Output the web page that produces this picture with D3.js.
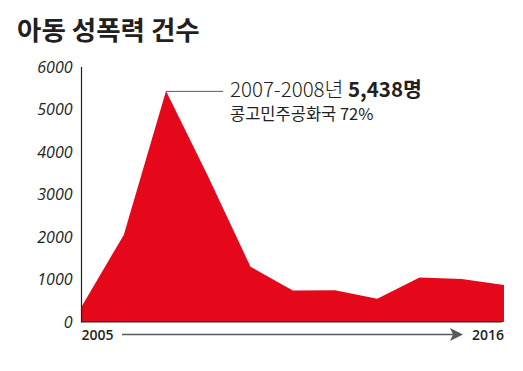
<!DOCTYPE html>
<html>
<head>
<meta charset="utf-8">
<script src="https://cdn.jsdelivr.net/npm/d3@7/dist/d3.min.js"></script>
<style>
  html, body { margin: 0; padding: 0; background: #fff; }
  svg { display: block; }
  .tick text { font-family: "Open Sans", sans-serif; font-style: italic; }
</style>
</head>
<body>
<div id="chart"></div>
<script>
// periods 2005-2006 ... 2015-2016, child sexual violence cases
const periods = ['2005-2006', '2006-2007', '2007-2008', '2008-2009', '2009-2010', '2010-2011',
                 '2011-2012', '2012-2013', '2013-2014', '2014-2015', '2015-2016'];
const cases = [360, 2050, 5438, 3420, 1300, 740, 750, 550, 1050, 1010, 870];
const yTicks = [0, 1000, 2000, 3000, 4000, 5000, 6000];
const endLabels = ['2005', '2016'];

const width = 523, height = 371;
const red = '#e5081b', ink = '#231f20', grey = '#5a5a5a';

let svg = d3.select('#chart')
            .append('svg')
            .attr('width', width)
            .attr('height', height);

// Title
svg.append('text')
   .attr('x', 17)
   .attr('y', 40)
   .attr('font-family', '"Noto Sans CJK KR", sans-serif')
   .attr('font-weight', 700)
   .attr('font-size', 26.5)
   .attr('fill', ink)
   .text('아동 성폭력 건수');

let x = d3.scaleLinear()
          .domain([0, periods.length - 1])
          .range([81.5, 504]);

let y = d3.scaleLinear()
          .domain([0, 6000])
          .range([322, 67]);

// Area
let area = d3.area()
             .x((d, i) => x(i))
             .y0(y(0))
             .y1(d => y(d));

svg.append('path')
   .datum(cases)
   .attr('d', area)
   .attr('fill', red);

// Y axis
let yAxis = svg.append('g')
               .attr('transform', `translate(${x(0)},0)`)
               .call(d3.axisLeft(y).tickValues(yTicks).tickFormat(d3.format('d')).tickSize(0).tickPadding(9));

yAxis.select('.domain').remove();
yAxis.selectAll('.tick text')
     .attr('font-size', 16)
     .attr('fill', ink);

svg.append('line')
   .attr('x1', x(0)).attr('x2', x(0))
   .attr('y1', y(6000)).attr('y2', y(0) + 0.5)
   .attr('stroke', ink)
   .attr('stroke-width', 1.2);

svg.append('line')
   .attr('x1', x(0)).attr('x2', x(periods.length - 1) - 2)
   .attr('y1', y(0)).attr('y2', y(0))
   .attr('stroke', ink)
   .attr('stroke-width', 1.2);

// X end labels and arrow
svg.append('text')
   .attr('x', x(0))
   .attr('y', 340)
   .attr('font-family', '"Open Sans", sans-serif')
   .attr('font-weight', 600)
   .attr('font-size', 14)
   .attr('fill', ink)
   .text(endLabels[0]);

svg.append('text')
   .attr('x', x(periods.length - 1))
   .attr('y', 340)
   .attr('text-anchor', 'end')
   .attr('font-family', '"Open Sans", sans-serif')
   .attr('font-weight', 600)
   .attr('font-size', 14)
   .attr('fill', ink)
   .text(endLabels[1]);

svg.append('line')
   .attr('x1', 122).attr('x2', 455)
   .attr('y1', 334.5).attr('y2', 334.5)
   .attr('stroke', grey)
   .attr('stroke-width', 1.5);

svg.append('path')
   .attr('d', 'M450,328 L463,334.5 L450,341 L453,334.5 Z')
   .attr('fill', grey);

// Peak annotation
let peak = cases.indexOf(d3.max(cases));

svg.append('line')
   .attr('x1', x(peak)).attr('x2', 223)
   .attr('y1', y(cases[peak]) + 0.5).attr('y2', y(cases[peak]) + 0.5)
   .attr('stroke', grey)
   .attr('stroke-width', 1);

let note = svg.append('text')
              .attr('x', 230)
              .attr('y', 97)
              .attr('font-family', '"Noto Sans CJK KR", sans-serif')
              .attr('font-size', 20.5)
              .attr('fill', ink);

note.append('tspan')
    .attr('font-weight', 300)
    .text(periods[peak] + '년 ');

note.append('tspan')
    .attr('font-weight', 700)
    .text(d3.format(',')(cases[peak]) + '명');

svg.append('text')
   .attr('x', 230)
   .attr('y', 120)
   .attr('font-family', '"Noto Sans CJK KR", sans-serif')
   .attr('font-weight', 400)
   .attr('font-size', 16.5)
   .attr('fill', ink)
   .text('콩고민주공화국 72%');
</script>
</body>
</html>
